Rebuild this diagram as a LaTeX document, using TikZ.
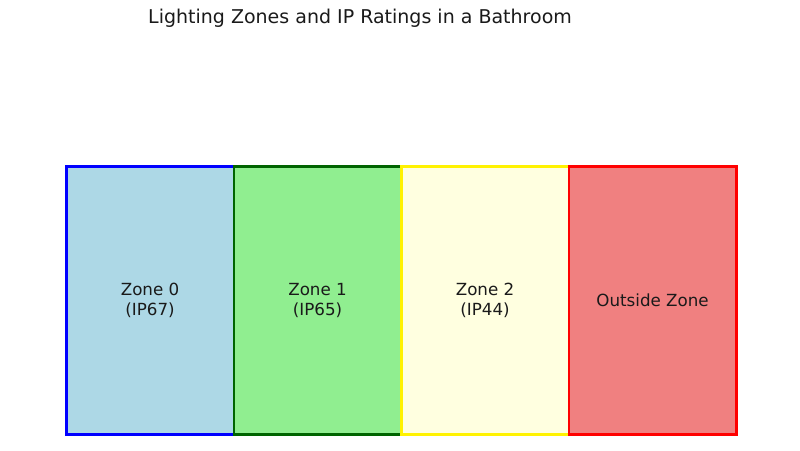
\documentclass[tikz,border=0pt]{standalone}
\usepackage{fontspec}
\setmainfont{DejaVu Sans}
\definecolor{zlblue}{RGB}{173,216,230}
\definecolor{zlgreen}{RGB}{144,238,144}
\definecolor{zlyellow}{RGB}{255,255,224}
\definecolor{zlcoral}{RGB}{240,128,128}
\definecolor{zdgreen}{RGB}{0,100,0}
\definecolor{ztext}{RGB}{26,26,26}
\begin{document}
\begin{tikzpicture}[x=1pt,y=-1pt,
  zone/.style={draw, line width=2.6pt, minimum width=167.5pt, minimum height=268pt, inner sep=0pt, anchor=north west, align=center, text=ztext, font=\fontsize{16.7pt}{19.5pt}\selectfont},
  titletext/.style={font=\fontsize{19pt}{22pt}\selectfont, text=ztext}]
\useasboundingbox (0,0) rectangle (800,450);
\node[zone, fill=zlblue, draw=blue] (z0) at (65,165) {Zone 0\\(IP67)};
\node[zone, fill=zlgreen, draw=zdgreen] (z1) at (232.5,165) {Zone 1\\(IP65)};
\node[zone, fill=zlyellow, draw=yellow] (z2) at (400,165) {Zone 2\\(IP44)};
\node[zone, fill=zlcoral, draw=red] (z3) at (567.5,165) {Outside Zone};
\node[titletext] (title) at (360,18.5) {Lighting Zones and IP Ratings in a Bathroom};
\end{tikzpicture}
\end{document}
